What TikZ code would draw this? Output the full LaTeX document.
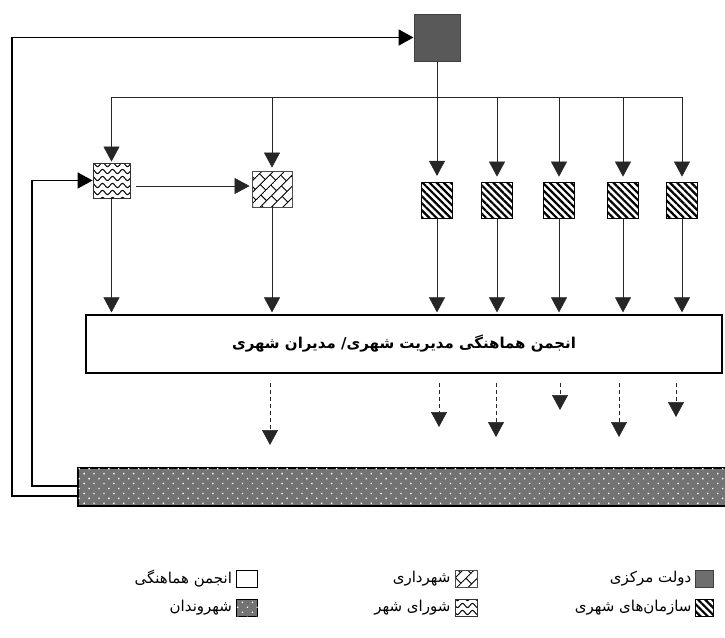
\documentclass[tikz,border=0pt]{standalone}
\usepackage{fontspec}
\newfontfamily\fa[Script=Arabic]{DejaVu Sans}
\TeXXeTstate=1
\usetikzlibrary{arrows.meta,patterns,patterns.meta}

\pgfdeclarepatternformonly{mywaves}{\pgfqpoint{-1pt}{-1pt}}{\pgfqpoint{11pt}{8pt}}{\pgfqpoint{10pt}{7pt}}{%
  \pgfsetlinewidth{1pt}%
  \pgfpathmoveto{\pgfqpoint{0pt}{3.5pt}}%
  \pgfpathcurveto{\pgfqpoint{1.8pt}{6.3pt}}{\pgfqpoint{3.2pt}{6.3pt}}{\pgfqpoint{5pt}{3.5pt}}%
  \pgfpathcurveto{\pgfqpoint{6.8pt}{0.7pt}}{\pgfqpoint{8.2pt}{0.7pt}}{\pgfqpoint{10pt}{3.5pt}}%
  \pgfusepath{stroke}%
}

\pgfdeclarepattern{
  name=mybricks,
  type=uncolored,
  bottom left={\pgfpoint{-0.5pt}{-0.5pt}},
  top right={\pgfpoint{14.5pt}{16.5pt}},
  tile size={\pgfpoint{14pt}{16pt}},
  tile transformation={\pgftransformrotate{45}},
  code={
    \pgfsetlinewidth{0.9pt}
    \pgfpathmoveto{\pgfpoint{0pt}{0pt}}\pgfpathlineto{\pgfpoint{14pt}{0pt}}
    \pgfpathmoveto{\pgfpoint{0pt}{8pt}}\pgfpathlineto{\pgfpoint{14pt}{8pt}}
    \pgfpathmoveto{\pgfpoint{0pt}{0pt}}\pgfpathlineto{\pgfpoint{0pt}{8pt}}
    \pgfpathmoveto{\pgfpoint{7pt}{8pt}}\pgfpathlineto{\pgfpoint{7pt}{16pt}}
    \pgfusepath{stroke}
  }
}

\tikzset{
  tip/.style={-{Triangle[width=16pt,length=15pt]}},
  conn/.style={line width=0.6pt, draw=black!85},
  arr/.style={conn, tip},
  dasharr/.style={arr, dash pattern=on 4pt off 3pt},
  outerline/.style={line width=1.8pt, draw=black, tip},
  innerline/.style={line width=1.2pt, draw=black, tip},
  govbox/.style={draw=black!75, fill=black!65, line width=1pt, inner sep=0pt},
  wavebox/.style={draw=black!80, line width=0.8pt, pattern=mywaves, inner sep=0pt},
  brickbox/.style={draw=black!70, line width=0.8pt, pattern=mybricks, inner sep=0pt},
  stripebox/.style={draw=black, line width=0.8pt, pattern={Lines[angle=-45,distance=5pt,line width=2.2pt]}, inner sep=0pt},
  citbox/.style={draw=black, line width=1.2pt, fill=black!55, inner sep=0pt,
     postaction={pattern={Dots[distance=7pt,radius=0.95pt,angle=45]}, pattern color=white}},
  mainbox/.style={draw=black, line width=1.2pt, fill=white, inner sep=0pt},
  legtext/.style={anchor=east, inner sep=1pt, font=\fontsize{15}{17}\selectfont\fa},
}

\begin{document}
\begin{tikzpicture}[x=1pt,y=-1pt]
\useasboundingbox (0,0) rectangle (725,637);

% top node
\node[govbox, minimum width=46pt, minimum height=47pt] (gov) at (437,37.5) {};

% second row
\node[wavebox, minimum width=37pt, minimum height=35pt] (council) at (111.5,180.5) {};
\node[brickbox, minimum width=40pt, minimum height=36pt] (muni) at (272,189) {};
\foreach \n/\x in {s1/437, s2/497, s3/559, s4/623, s5/682}
  \node[stripebox, minimum width=31pt, minimum height=36pt] (\n) at (\x,200) {};

% main box
\node[mainbox, minimum width=636pt, minimum height=58pt] (assoc) at (404,344)
  {\fontsize{15}{18}\selectfont\fa\bfseries\beginR انجمن هماهنگی مدیریت شهری/ مدیران شهری\endR};

% citizens bar
\node[citbox, minimum width=652pt, minimum height=38pt] (cit) at (404,487) {};

% distribution
\coordinate (hub) at (437,97);
\draw[conn] (gov.south) -- (hub);
\draw[conn] (council.north |- hub) -- (s5.north |- hub);
\draw[arr, shorten >=1pt] (council.north |- hub) -- (council.north);
\draw[arr, shorten >=3pt] (muni.north |- hub) -- (muni.north);
\foreach \n in {s1,s2,s3,s4,s5}
  \draw[arr, shorten >=5pt] (\n.north |- hub) -- (\n.north);

% council -> municipality
\draw[arr] ([xshift=6pt,yshift=-5.5pt]council.east) -- ([xshift=-2pt,yshift=3pt]muni.west);

% down to main box
\foreach \n in {council,muni,s1,s2,s3,s4,s5}
  \draw[arr, shorten >=2pt] (\n.south) -- (\n.south |- assoc.north);

% dashed arrows from main box
\foreach \i/\x/\y in {1/270/445, 2/439/427, 3/496/437, 4/560/410, 5/619/437, 6/676/417}{
  \coordinate (d\i) at (\x,\y);
  \draw[dasharr] ([yshift=-9pt]assoc.south -| d\i) -- (d\i);
}

% feedback loops
\coordinate (lo) at (12,0);
\coordinate (li) at (32,0);
\draw[outerline] ([yshift=-9pt]cit.west) -| (lo |- gov.west) -- (gov.west);
\draw[innerline] ([yshift=1pt]cit.west) -| (li |- council.west) -- (council.west);

% legend
\node[govbox, fill=black!57, minimum width=18pt, minimum height=17pt] (lg1) at (704,579) {};
\node[legtext] (lt1) at ([xshift=-2pt]lg1.west) {\beginR دولت مرکزی\endR};
\node[brickbox, minimum width=22pt, minimum height=17pt] (lg2) at (466,579) {};
\node[legtext] (lt2) at ([xshift=-3pt]lg2.west) {\beginR شهرداری\endR};
\node[draw=black, line width=0.7pt, minimum width=21pt, minimum height=17pt, inner sep=0pt] (lg3) at (247,579) {};
\node[legtext] (lt3) at ([xshift=-3pt]lg3.west) {\beginR انجمن هماهنگی\endR};

\node[stripebox, minimum width=18pt, minimum height=17pt] (lg4) at (704,608) {};
\node[legtext] (lt4) at ([xshift=-2pt]lg4.west) {\beginR سازمان‌های شهری\endR};
\node[wavebox, minimum width=22pt, minimum height=17pt] (lg5) at (466,608) {};
\node[legtext] (lt5) at ([xshift=-3pt]lg5.west) {\beginR شورای شهر\endR};
\node[citbox, line width=0.7pt, minimum width=21pt, minimum height=17pt] (lg6) at (247,608) {};
\node[legtext] (lt6) at ([xshift=-3pt]lg6.west) {\beginR شهروندان\endR};
\end{tikzpicture}
\end{document}
